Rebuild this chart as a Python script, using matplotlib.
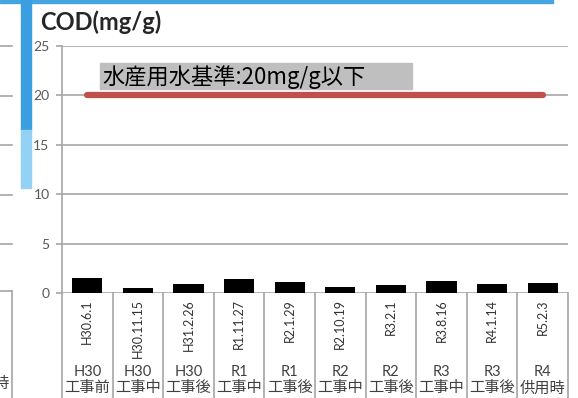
import matplotlib
matplotlib.use("Agg")
import matplotlib.pyplot as plt
from matplotlib.patches import Rectangle

plt.rcParams['font.family'] = ['Lato', 'Noto Sans CJK JP', 'DejaVu Sans']

# --- données ---
dates = ["H30.6.1", "H30.11.15", "H31.2.26", "R1.11.27", "R2.1.29",
         "R2.10.19", "R3.2.1", "R3.8.16", "R4.1.14", "R5.2.3"]
annees = ["H30", "H30", "H30", "R1", "R1", "R2", "R2", "R3", "R3", "R4"]
phases = ["工事前", "工事中", "工事後", "工事中", "工事後",
          "工事中", "工事後", "工事中", "工事後", "供用時"]
cod = [1.55, 0.55, 0.9, 1.4, 1.15, 0.65, 0.8, 1.2, 0.9, 1.05]
norme = 20
texte_norme = "水産用水基準:20mg/g以下"

W, H = 578, 398
fig = plt.figure(figsize=(W / 100, H / 100), dpi=100)

def fx(px):
    return px / W

def fy(py):
    return 1 - py / H

ax = fig.add_axes([fx(62), fy(293), fx(568) - fx(62), fy(46) - fy(293)])
x = list(range(len(cod)))

ax.bar(x, cod, width=0.6, color="black", zorder=3)
ax.plot([x[0], x[-1]], [norme, norme], color="#c0504d", lw=4.5,
        solid_capstyle="round", zorder=4)

ax.set_xlim(-0.5, len(cod) - 0.5)
ax.set_ylim(0, 25)
ax.set_yticks([0, 5, 10, 15, 20, 25])
ax.grid(axis="y", color="#a6a6a6", lw=1.2, zorder=0)
for s in ["top", "right", "bottom"]:
    ax.spines[s].set_visible(False)
ax.spines["left"].set_color("#a6a6a6")
ax.spines["left"].set_linewidth(1.2)
ax.tick_params(axis="y", colors="#a6a6a6", length=4, width=1.2,
               labelcolor="#595959", labelsize=10, pad=5)
ax.set_xticks([])

# tableau sous l'axe
for i in range(len(cod) + 1):
    ax.plot([i - 0.5, i - 0.5], [0, -0.45], transform=ax.get_xaxis_transform(),
            color="#a6a6a6", lw=1.2, clip_on=False)
for i in x:
    ax.text(i, -0.025, dates[i], transform=ax.get_xaxis_transform(),
            rotation=90, ha="center", va="top", fontsize=9, color="#333333")
    ax.text(i, -0.32, annees[i], transform=ax.get_xaxis_transform(),
            ha="center", va="center", fontsize=10.5, color="#404040")
    ax.text(i, -0.385, phases[i], transform=ax.get_xaxis_transform(),
            ha="center", va="center", fontsize=11, color="#404040")

# étiquette de la norme
fig.patches.append(Rectangle((fx(100), fy(89)), fx(412) - fx(100), fy(63) - fy(89),
                             transform=fig.transFigure, color="#bfbfbf", zorder=5))
fig.text(fx(102), fy(77), texte_norme, fontsize=16, color="black",
         family=['Noto Sans CJK JP', 'DejaVu Sans'], va="center", ha="left", zorder=6)

# titre
fig.text(fx(40), fy(22), "COD(mg/g)", fontsize=17, fontweight="bold",
         color="#262626", va="center", ha="left")

# décor de la diapositive (graphe voisin coupé)
fig.patches.append(Rectangle((0, fy(3)), fx(553), fy(0) - fy(3),
                             transform=fig.transFigure, color="#45a5e0"))
fig.patches.append(Rectangle((fx(21), fy(130)), fx(10), fy(0) - fy(130),
                             transform=fig.transFigure, color="#3a9ee0"))
fig.patches.append(Rectangle((fx(21), fy(188)), fx(10), fy(130) - fy(188),
                             transform=fig.transFigure, color="#93d1f5"))
for py in [46, 96, 145, 195, 244]:
    fig.add_artist(plt.Line2D([0, fx(12)], [fy(py), fy(py)], color="#a6a6a6", lw=1.2))
fig.add_artist(plt.Line2D([0, fx(12)], [fy(291), fy(291)], color="#a6a6a6", lw=1.2))
fig.add_artist(plt.Line2D([fx(12), fx(12)], [fy(291), 0], color="#a6a6a6", lw=1.2))
fig.text(fx(9), fy(384), "時", fontsize=11, color="#404040", ha="right", va="center")

fig.savefig("out.png", dpi=100)
